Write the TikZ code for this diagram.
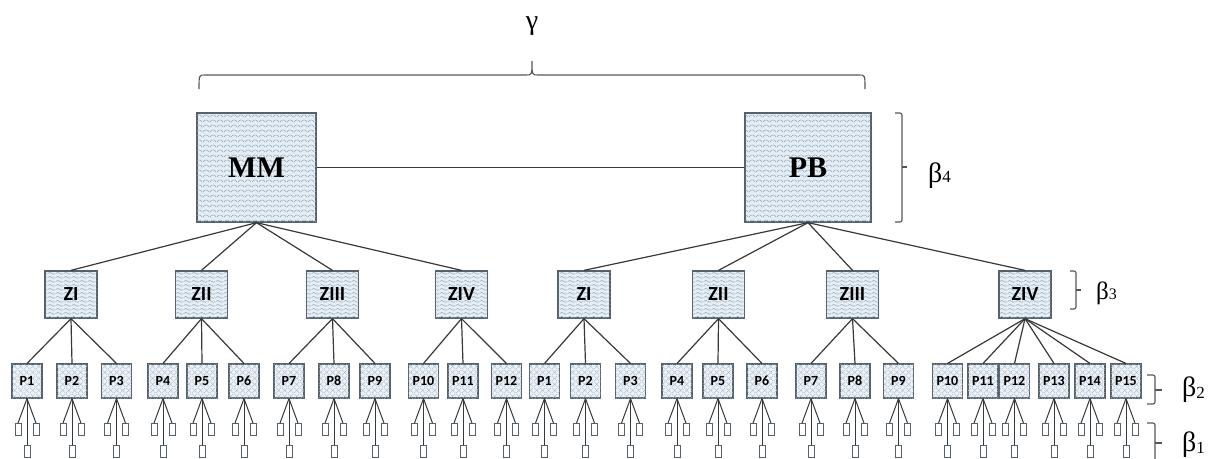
\documentclass[tikz,border=0pt]{standalone}
\usepackage{fontspec}
\setmainfont{Liberation Serif}
\newfontfamily\zfont{Carlito}
\usetikzlibrary{patterns,patterns.meta}

\definecolor{boxline}{HTML}{55616B}
\definecolor{boxfill}{HTML}{E4EDF4}
\definecolor{texture}{HTML}{8EA2B3}
\definecolor{wire}{HTML}{383838}

% scalloped texture for the two large units
\tikzdeclarepattern{
  name=scales, type=uncolored,
  bounding box={(0pt,0pt) and (7pt,5pt)},
  tile size={(7pt,5pt)},
  code={\draw[line width=0.5pt] (0pt,1pt) .. controls (1pt,4.5pt) and (6pt,4.5pt) .. (7pt,1pt);}
}
% wavy texture for the zones
\tikzdeclarepattern{
  name=waves, type=uncolored,
  bounding box={(0pt,0pt) and (8pt,4pt)},
  tile size={(8pt,4pt)},
  code={\draw[line width=0.5pt] (0pt,2pt) .. controls (2pt,3.6pt) and (2pt,3.6pt) .. (4pt,2pt) .. controls (6pt,0.4pt) and (6pt,0.4pt) .. (8pt,2pt);}
}
% sparse diagonal hatch for the plants
\tikzdeclarepattern{
  name=hatch, type=uncolored,
  bounding box={(0pt,0pt) and (6pt,6pt)},
  tile size={(6pt,6pt)},
  code={\draw[line width=0.4pt] (0pt,0pt) -- (6pt,6pt) (0pt,6pt) -- (6pt,0pt);}
}

\begin{document}
\begin{tikzpicture}[x=1pt,y=-1pt,
  unitbox/.style={draw=boxline, line width=1.3pt, fill=boxfill, inner sep=0pt},
  bigunit/.style={unitbox, postaction={pattern=scales, pattern color=texture},
    minimum height=109pt, font=\fontsize{30}{30}\selectfont\bfseries},
  zone/.style={unitbox, postaction={pattern=waves, pattern color=texture},
    minimum width=52pt, minimum height=47pt, font=\zfont\fontsize{20}{20}\selectfont\bfseries},
  plant/.style={unitbox, line width=1.1pt, fill=boxfill!70, postaction={pattern=hatch, pattern color=texture!75},
    minimum width=30pt, minimum height=34pt, font=\zfont\fontsize{14}{14}\selectfont\bfseries},
  leaf/.style={draw=boxline, line width=0.9pt, fill=white, inner sep=0pt,
    minimum width=6pt, minimum height=12pt},
  wire/.style={draw=wire, line width=1.2pt},
  thinwire/.style={draw=wire, line width=1pt},
  bracket/.style={draw=wire!85, line width=1.1pt, rounded corners=2pt},
  greek/.style={inner sep=0pt, font=\fontsize{28}{28}\selectfont}
]
\useasboundingbox (0,0) rectangle (1209,458);
\clip (0,0) rectangle (1209,458);

% top level
\node[bigunit, minimum width=119pt] (mm) at (256.5,167.5) {MM};
\node[bigunit, minimum width=126pt] (pb) at (808,167.5) {PB};
\draw[wire] (mm.east) -- (pb.west);

% zones
\foreach \lab/\x [count=\i] in {ZI/71, ZII/201.5, ZIII/332.5, ZIV/461.5}
  \node[zone] (zl\i) at (\x,294.5) {\lab};
\foreach \lab/\x [count=\i] in {ZI/584, ZII/718.5, ZIII/852.5, ZIV/1025}
  \node[zone] (zr\i) at (\x,294.5) {\lab};
\foreach \i in {1,...,4} {
  \draw[wire] (mm.south) -- (zl\i.north);
  \draw[wire] (pb.south) -- (zr\i.north);
}

% plants
\foreach \x [count=\i] in {27,72,116.5,163,202,244,289,334,375,423.5,463,506.5}
  \node[plant] (pl\i) at (\x,381) {P\i};
\foreach \x [count=\i] in {544.5,585.5,630.5,677,718,762,811,855,898.5,947.5,983,1014.5,1054,1090,1126}
  \node[plant] (pr\i) at (\x,381) {P\i};

\foreach \i in {1,...,12} {
  \pgfmathtruncatemacro\z{(\i+2)/3}
  \draw[wire] (zl\z.south) -- (pl\i.north);
}
\foreach \i in {1,...,9} {
  \pgfmathtruncatemacro\z{(\i+2)/3}
  \draw[wire] (zr\z.south) -- (pr\i.north);
}
\foreach \i in {10,...,15}
  \draw[wire] (zr4.south) -- (pr\i.north);

% units below each plant
\foreach \s/\n in {l/12, r/15} {
  \foreach \i in {1,...,\n} {
    \path (p\s\i.south) ++(-9,31) node[leaf] (p\s\i-a) {}
          (p\s\i.south) ++(9,31)  node[leaf] (p\s\i-b) {}
          (p\s\i.south) ++(0,53)  node[leaf] (p\s\i-c) {};
    \draw[thinwire] (p\s\i.south) -- (p\s\i-a.north);
    \draw[thinwire] (p\s\i.south) -- (p\s\i-b.north);
    \draw[thinwire] (p\s\i.south) -- (p\s\i-c.north);
  }
}

% overall brace
\draw[bracket, rounded corners=0pt] (199,89) .. controls (199,75) .. (205,75) -- (526,75)
  .. controls (532,75) .. (532,61) .. controls (532,75) .. (538,75) -- (859,75)
  .. controls (865,75) .. (865,89);
\node[greek] (gamma) at (532,26) {γ};

% level brackets
\draw[bracket] (895,113) -- (902,113) -- (902,222) -- (895,222);
\draw[bracket] (902,167) -- (907,167);
\node[greek, anchor=base west] (b4) at (928,182) {β\fontsize{17}{17}\selectfont 4};

\draw[bracket] (1070,271) -- (1076,271) -- (1076,309) -- (1070,309);
\draw[bracket] (1076,290) -- (1081,290);
\node[greek, anchor=base west, font=\fontsize{25}{25}\selectfont] (b3) at (1096,299) {β\fontsize{16}{16}\selectfont 3};

\draw[bracket] (1147,375) -- (1155,375) -- (1155,404) -- (1147,404);
\draw[bracket] (1155,390) -- (1162,390);
\node[greek, anchor=base west] (b2) at (1182,396) {β\raisebox{-2pt}{\fontsize{17}{17}\selectfont 2}};

\draw[bracket] (1147,423) -- (1155,423) -- (1155,466) -- (1147,466);
\draw[bracket] (1155,443) -- (1162,443);
\node[greek, anchor=base west] (b1) at (1182,451) {β\raisebox{-2pt}{\fontsize{17}{17}\selectfont 1}};
\end{tikzpicture}
\end{document}
